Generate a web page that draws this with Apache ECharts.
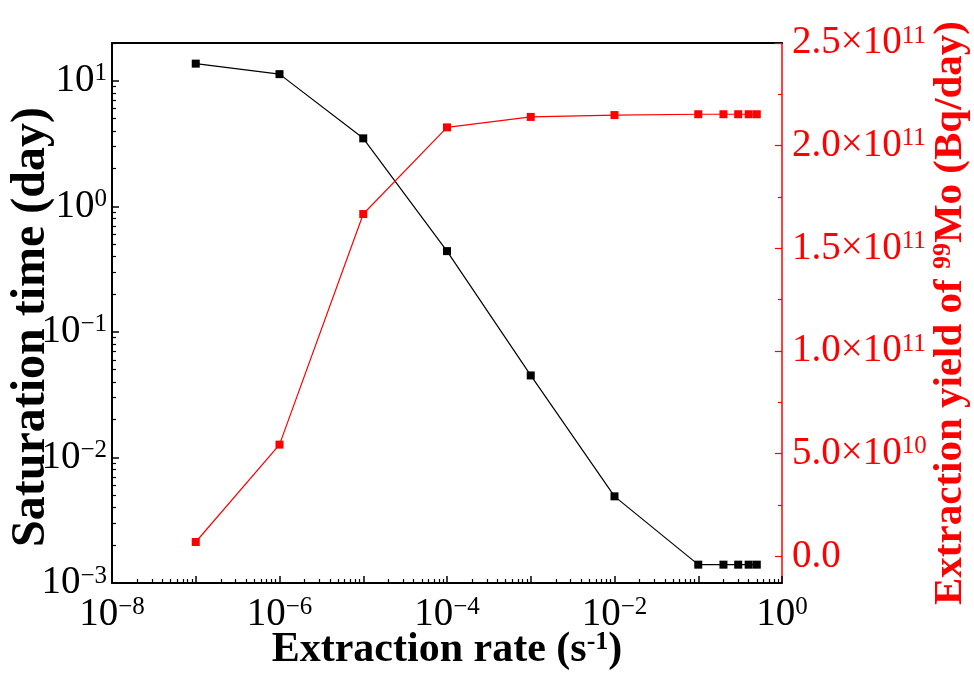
<!DOCTYPE html>
<html>
<head>
<meta charset="utf-8">
<script src="https://cdn.jsdelivr.net/npm/echarts@6/dist/echarts.min.js"></script>
<style>
  html, body { margin: 0; padding: 0; background: #fff; }
  #chart { width: 974px; height: 694px; }
</style>
</head>
<body>
<div id="chart"></div>
<script>
// extraction rate (s^-1)
var rates = [1e-7, 1e-6, 1e-5, 1e-4, 1e-3, 1e-2, 0.1, 0.2, 0.3, 0.4, 0.5];
// saturation time (day), left log axis
var satTime = [13.7, 11.3, 3.48, 0.44, 0.045, 0.0049, 0.0014, 0.0014, 0.0014, 0.0014, 0.0014];
// extraction yield of 99Mo (Bq/day), right axis
var moYield = [6.97e9, 5.44e10, 1.667e11, 2.089e11, 2.14e11, 2.149e11, 2.153e11, 2.153e11, 2.153e11, 2.153e11, 2.153e11];
// right axis labels / minor ticks
var rightTicks = [0, 5e10, 1e11, 1.5e11, 2e11, 2.5e11];
var rightMinor = [2.5e10, 7.5e10, 1.25e11, 1.75e11, 2.25e11];

var FONT = "Liberation Serif";
var RED = "#ff0000";

function pairs(xs, ys) {
  return xs.map(function (x, i) { return [x, ys[i]]; });
}
// minor ticks 2..9 x 10^k for log axes
function logMinor(kFrom, kTo, maxV) {
  var out = [];
  for (var k = kFrom; k <= kTo; k++) {
    for (var m = 2; m <= 9; m++) {
      var v = m * Math.pow(10, k);
      if (v <= maxV) out.push(v);
    }
  }
  return out;
}
function supExp(e) {
  return e < 0 ? "\u2212" + (-e) : "" + e;
}
function logLabel(evenOnly) {
  return function (value) {
    var l = Math.log10(value);
    var e = Math.round(l);
    if (Math.abs(l - e) > 1e-6) return "";
    if (evenOnly && e % 2 !== 0) return "";
    return "{b|10}{s|" + supExp(e) + "}";
  };
}
var tickRich = {
  b: { fontFamily: FONT, fontSize: 39, color: "#000" },
  s: { fontFamily: FONT, fontSize: 25, color: "#000", verticalAlign: "top" }
};
var redRich = {
  b: { fontFamily: FONT, fontSize: 39, color: RED },
  s: { fontFamily: FONT, fontSize: 25, color: RED, verticalAlign: "top" }
};

var chart = echarts.init(document.getElementById("chart"));
chart.setOption({
  backgroundColor: "#fff",
  animation: false,
  grid: { left: 112, right: 192, top: 43, bottom: 111, containLabel: false, outerBoundsMode: "none" },
  xAxis: [
    {
      type: "log", logBase: 10, min: 1e-8, max: 1, position: "bottom",
      axisLine: { onZero: false, lineStyle: { color: "#000", width: 2 } },
      axisTick: { inside: true, length: 7, lineStyle: { color: "#000", width: 1.5 } },
      axisLabel: { margin: 12, formatter: logLabel(true), rich: tickRich },
      splitLine: { show: false },
      name: "{t|Extraction rate (s}{s|-1}{t|)}",
      nameLocation: "middle", nameGap: 46, nameMoveOverlap: false,
      nameTextStyle: {
        rich: {
          t: { fontFamily: FONT, fontSize: 42, fontWeight: "bold", color: "#000" },
          s: { fontFamily: FONT, fontSize: 26, fontWeight: "bold", color: "#000", verticalAlign: "top" }
        }
      }
    },
    {
      type: "log", logBase: 10, min: 1e-8, max: 1, position: "bottom",
      axisLine: { show: false, onZero: false },
      axisTick: { inside: true, length: 4, customValues: logMinor(-8, -1, 1), lineStyle: { color: "#000", width: 1.2 } },
      axisLabel: { show: false },
      splitLine: { show: false }
    },
    {
      type: "log", logBase: 10, min: 1e-8, max: 1, position: "top",
      axisLine: { onZero: false, lineStyle: { color: "#000", width: 2 } },
      axisTick: { show: false },
      axisLabel: { show: false },
      splitLine: { show: false }
    }
  ],
  yAxis: [
    {
      type: "log", logBase: 10, min: 1e-3, max: 20, position: "left",
      axisLine: { onZero: false, lineStyle: { color: "#000", width: 2 } },
      axisTick: { inside: true, length: 7, lineStyle: { color: "#000", width: 1.5 } },
      axisLabel: { margin: 5, formatter: logLabel(false), rich: tickRich, showMaxLabel: false },
      splitLine: { show: false },
      name: "Saturation time (day)",
      nameLocation: "middle", nameRotate: 90, nameGap: 56, nameMoveOverlap: false,
      nameTextStyle: { fontFamily: FONT, fontSize: 48, fontWeight: "bold", color: "#000", padding: [0, 28, 0, 0] }
    },
    {
      type: "log", logBase: 10, min: 1e-3, max: 20, position: "left",
      axisLine: { show: false, onZero: false },
      axisTick: { inside: true, length: 4, customValues: logMinor(-3, 1, 20), lineStyle: { color: "#000", width: 1.2 } },
      axisLabel: { show: false },
      splitLine: { show: false }
    },
    {
      type: "value", min: -1.3e10, max: 2.5e11, position: "right",
      axisLine: { onZero: false, lineStyle: { color: RED, width: 1.5 } },
      axisTick: { inside: true, length: 7, customValues: rightTicks, lineStyle: { color: RED, width: 1.2 } },
      axisLabel: {
        margin: 10, customValues: rightTicks, rich: redRich,
        formatter: function (v) {
          if (v === 0) return "{b|0.0}";
          var e = Math.floor(Math.log10(v) + 1e-9);
          var m = v / Math.pow(10, e);
          return "{b|" + m.toFixed(1) + "\u00d710}{s|" + e + "}";
        }
      },
      splitLine: { show: false },
      name: "{t|Extraction yield of }{s|99}{t|Mo (Bq/day)}",
      nameLocation: "middle", nameRotate: 90, nameGap: 148, nameMoveOverlap: false,
      nameTextStyle: {
        rich: {
          t: { fontFamily: FONT, fontSize: 41, fontWeight: "bold", color: RED },
          s: { fontFamily: FONT, fontSize: 26, fontWeight: "bold", color: RED, verticalAlign: "top" }
        }
      }
    },
    {
      type: "value", min: -1.3e10, max: 2.5e11, position: "right",
      axisLine: { show: false, onZero: false },
      axisTick: { inside: true, length: 4, customValues: rightMinor, lineStyle: { color: RED, width: 1.2 } },
      axisLabel: { show: false },
      splitLine: { show: false }
    }
  ],
  series: [
    {
      type: "line", name: "Saturation time", xAxisIndex: 0, yAxisIndex: 0,
      symbol: "rect", symbolSize: 8,
      itemStyle: { color: "#000" },
      lineStyle: { color: "#000", width: 1.2 },
      data: pairs(rates, satTime)
    },
    {
      type: "line", name: "Extraction yield", xAxisIndex: 0, yAxisIndex: 2,
      symbol: "rect", symbolSize: 8,
      itemStyle: { color: RED },
      lineStyle: { color: RED, width: 1.2 },
      data: pairs(rates, moYield)
    }
  ]
});
</script>
</body>
</html>
